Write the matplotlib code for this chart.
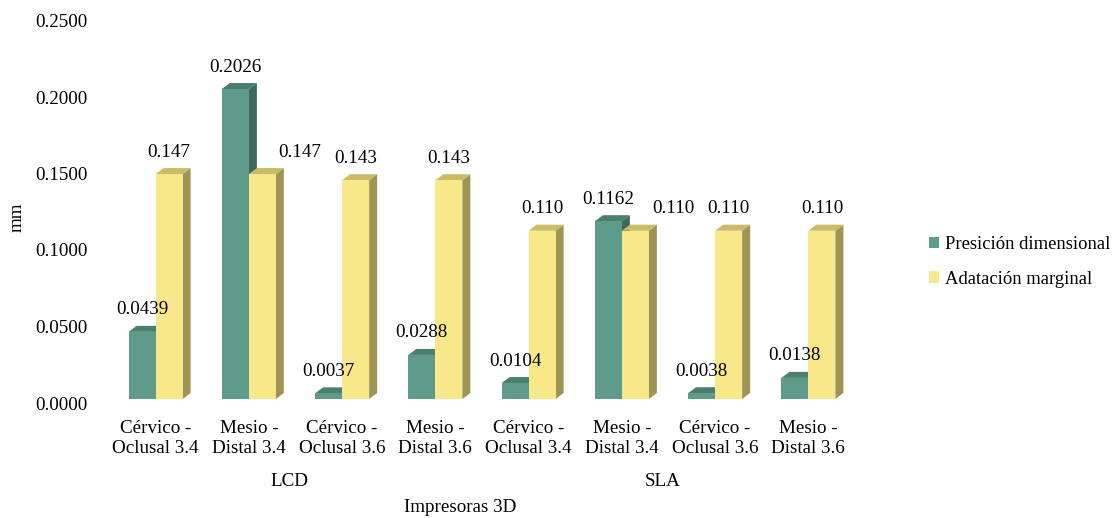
import matplotlib.pyplot as plt
from matplotlib.patches import Rectangle, Polygon, Patch
from matplotlib import transforms

plt.rcParams['font.family'] = ['Liberation Serif', 'DejaVu Serif']
plt.rcParams['font.size'] = 13.7

categorias = ["Cérvico -\nOclusal 3.4", "Mesio -\nDistal 3.4", "Cérvico -\nOclusal 3.6", "Mesio -\nDistal 3.6",
              "Cérvico -\nOclusal 3.4", "Mesio -\nDistal 3.4", "Cérvico -\nOclusal 3.6", "Mesio -\nDistal 3.6"]
impresoras = ["LCD", "SLA"]
presicion = [0.0439, 0.2026, 0.0037, 0.0288, 0.0104, 0.1162, 0.0038, 0.0138]
adatacion = [0.147, 0.147, 0.143, 0.143, 0.110, 0.110, 0.110, 0.110]
yticks = [0.0, 0.05, 0.10, 0.15, 0.20, 0.25]

W, H = 1112, 518
fig = plt.figure(figsize=(W / 100, H / 100), dpi=100)
ax_l, ax_r, ax_b, ax_t = 109, 855, 399, 16.5
ax = fig.add_axes([ax_l / W, 1 - ax_b / H, (ax_r - ax_l) / W, (ax_b - ax_t) / H])
ax.set_xlim(-0.5, 7.5)
ax.set_ylim(0, 0.25)

# profundidad 3D en unidades de datos (8 px a la derecha, 6 px arriba)
px_x = (ax_r - ax_l) / 8.0
px_y = (ax_b - ax_t) / 0.25
dx = 8 / px_x
dy = 6 / px_y
bw = 27 / px_x

series = [
    (presicion, "Presición dimensional", "#5f9b8b", "#4a7e6f", "#3e6a5d", "{:.4f}", -bw),
    (adatacion, "Adatación marginal", "#f9e88a", "#c9bb68", "#9e9555", "{:.3f}", 0),
]
# etiquetas amarillas que chocan con la verde vecina se corren a la derecha (px)
corrimiento = {1: 37, 5: 38}

for i in range(len(categorias)):
    for k, (vals, nombre, c_front, c_top, c_side, fmt, off) in enumerate(series):
        h = vals[i]
        x0 = i + off
        x1 = x0 + bw
        ax.add_patch(Polygon([(x1, 0), (x1 + dx, dy), (x1 + dx, h + dy), (x1, h)],
                             closed=True, facecolor=c_side, edgecolor='none'))
        ax.add_patch(Polygon([(x0, h), (x1, h), (x1 + dx, h + dy), (x0 + dx, h + dy)],
                             closed=True, facecolor=c_top, edgecolor='none'))
        ax.add_patch(Rectangle((x0, 0), bw, h, facecolor=c_front, edgecolor='none'))
        xs = x0 + bw / 2
        if k == 1:
            xs += corrimiento.get(i, 0) / px_x
        ax.text(xs, h + 22 / px_y, fmt.format(h), ha='center', va='center')

for s in ax.spines.values():
    s.set_visible(False)

ax.set_xticks(range(len(categorias)))
ax.set_xticklabels(categorias, linespacing=1.25)
ax.tick_params(axis='x', length=0, pad=15)
ax.set_yticks([])

# etiquetas del eje y
ytr = transforms.blended_transform_factory(ax.transAxes, ax.transData) + \
    transforms.ScaledTranslation(-21 / 100, -6 / 100, fig.dpi_scale_trans)
for t in yticks:
    ax.text(0, t, "{:.4f}".format(t), transform=ytr, ha='right', va='center')

for nombre, xc in zip(impresoras, [1.43, 5.44]):
    ax.annotate(nombre, xy=(xc, 0), xycoords=('data', 'axes fraction'),
                xytext=(0, -83 * 0.72), textcoords='offset points', ha='center', va='center')
ax.annotate("Impresoras 3D", xy=(3.27, 0), xycoords=('data', 'axes fraction'),
            xytext=(0, -109 * 0.72), textcoords='offset points', ha='center', va='center')

fig.text(17 / W, 1 - 217 / H, "mm", rotation=90, ha='center', va='center')

handles = [Patch(facecolor=s[2], edgecolor='none', label=s[1]) for s in series]
fig.legend(handles=handles, loc='upper left', bbox_to_anchor=(929 / W, 1 - 236 / H),
           bbox_transform=fig.transFigure, frameon=False, borderpad=0, borderaxespad=0,
           handlelength=0.55, handleheight=0.55, handletextpad=0.3, labelspacing=0.95,
           prop={'size': 13.4})

fig.savefig("out.png", dpi=100)
